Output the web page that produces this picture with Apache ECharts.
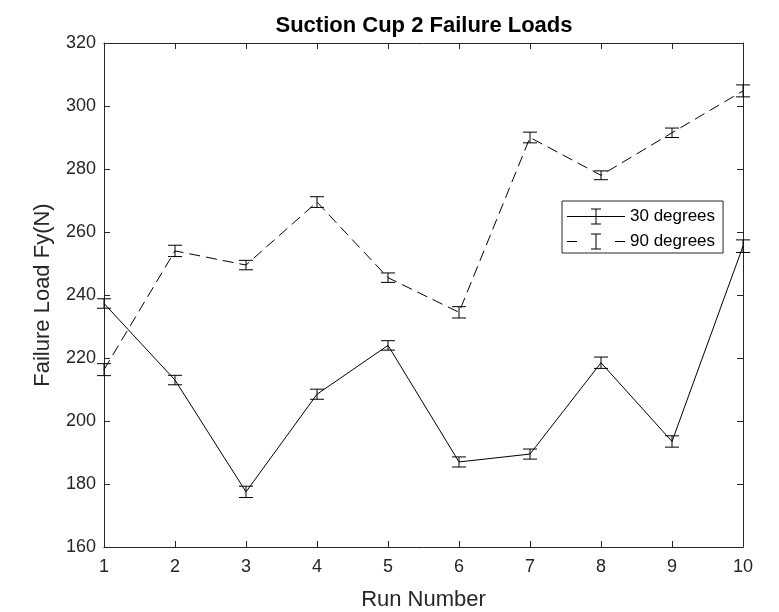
<!DOCTYPE html>
<html>
<head>
<meta charset="utf-8">
<script src="https://cdn.jsdelivr.net/npm/echarts@6/dist/echarts.min.js"></script>
<style>html,body{margin:0;padding:0;background:#fff;}#c{width:779px;height:612px;}</style>
</head>
<body>
<div id="c"></div>
<script>
var runs = [1, 2, 3, 4, 5, 6, 7, 8, 9, 10];
var deg30 = [237.3, 213, 177.5, 208.5, 224, 187, 189.5, 218.5, 193.5, 255.5];
var err30 = [1.5, 1.5, 1.8, 1.6, 1.5, 1.6, 1.6, 1.8, 1.8, 2.0];
var deg90 = [216.3, 254, 249.5, 269.5, 245.5, 234.5, 290, 278, 291.5, 304.8];
var err90 = [1.9, 1.8, 1.5, 1.7, 1.5, 1.8, 1.7, 1.4, 1.5, 1.9];
var yTicks = [160, 180, 200, 220, 240, 260, 280, 300, 320];

var FONT = "'Liberation Sans', Arial, Helvetica, sans-serif";
var AX = '#262626';

function pairs(vals) { return runs.map(function (r, i) { return [r, vals[i]]; }); }
function errData(vals, errs) { return runs.map(function (r, i) { return [r, vals[i] - errs[i], vals[i] + errs[i]]; }); }

function renderErr(params, api) {
  var x = api.value(0);
  var lo = api.coord([x, api.value(1)]);
  var hi = api.coord([x, api.value(2)]);
  var hw = 7;
  var st = { stroke: '#000', lineWidth: 1 };
  return {
    type: 'group',
    children: [
      { type: 'line', shape: { x1: lo[0], y1: lo[1], x2: hi[0], y2: hi[1] }, style: st },
      { type: 'line', shape: { x1: lo[0] - hw, y1: lo[1], x2: lo[0] + hw, y2: lo[1] }, style: st },
      { type: 'line', shape: { x1: hi[0] - hw, y1: hi[1], x2: hi[0] + hw, y2: hi[1] }, style: st }
    ]
  };
}

var iconSolid = 'path://M0 7.5H58V8.5H0Z M28.5 0H29.5V16H28.5Z M24 0H34V1H24Z M24 15H34V16H24Z';
var iconDash = 'path://M0 7.5H10V8.5H0Z M48 7.5H58V8.5H48Z M28.5 0H29.5V16H28.5Z M24 0H34V1H24Z M24 15H34V16H24Z';

var chart = echarts.init(document.getElementById('c'));
var axisCommon = {
  type: 'value',
  axisLine: { show: true, lineStyle: { color: AX, width: 1 } },
  axisTick: { show: true, inside: true, length: 6, lineStyle: { color: AX } },
  splitLine: { show: false }
};
chart.setOption({
  animation: false,
  backgroundColor: '#fff',
  title: {
    text: 'Suction Cup 2 Failure Loads',
    left: 424, textAlign: 'center', top: 15, padding: 0,
    textStyle: { fontFamily: FONT, fontSize: 22, fontWeight: 'bold', color: '#000' }
  },
  legend: {
    orient: 'vertical',
    left: 562, top: 201,
    backgroundColor: '#fff',
    borderColor: '#262626', borderWidth: 1, borderRadius: 0,
    padding: [7, 8, 3, 5],
    itemWidth: 58, itemHeight: 16, itemGap: 8,
    textStyle: { fontFamily: FONT, fontSize: 17, color: '#000' },
    itemStyle: { color: '#000', borderWidth: 0 },
    data: [
      { name: '30 degrees', icon: iconSolid },
      { name: '90 degrees', icon: iconDash }
    ]
  },
  grid: { left: 104, right: 36, top: 43, bottom: 65, containLabel: false, outerBoundsMode: 'none' },
  xAxis: [
    Object.assign({}, axisCommon, {
      min: 1, max: 10, interval: 1, position: 'bottom',
      name: 'Run Number', nameLocation: 'middle', nameGap: 42,
      nameTextStyle: { fontFamily: FONT, fontSize: 22, color: AX },
      axisLabel: { fontFamily: FONT, fontSize: 18, color: AX, margin: 11 }
    }),
    Object.assign({}, axisCommon, {
      min: 1, max: 10, interval: 1, position: 'top',
      axisLabel: { show: false }
    })
  ],
  yAxis: [
    Object.assign({}, axisCommon, {
      min: yTicks[0], max: yTicks[yTicks.length - 1], interval: 20, position: 'left',
      name: 'Failure Load Fy(N)', nameLocation: 'middle', nameGap: 50,
      nameTextStyle: { fontFamily: FONT, fontSize: 22, color: AX },
      axisLabel: { fontFamily: FONT, fontSize: 18, color: AX, margin: 8 }
    }),
    Object.assign({}, axisCommon, {
      min: yTicks[0], max: yTicks[yTicks.length - 1], interval: 20, position: 'right',
      axisLabel: { show: false }
    })
  ],
  series: [
    {
      name: '30 degrees', type: 'line', data: pairs(deg30), showSymbol: false, symbol: 'none',
      lineStyle: { color: '#000', width: 1 }, itemStyle: { color: '#000' }, z: 3
    },
    {
      name: '90 degrees', type: 'line', data: pairs(deg90), showSymbol: false, symbol: 'none',
      lineStyle: { color: '#000', width: 1, type: [11, 6] }, itemStyle: { color: '#000' }, z: 3
    },
    { name: '30 degrees', type: 'custom', renderItem: renderErr, data: errData(deg30, err30), z: 4, clip: false,
      encode: { x: 0, y: [1, 2] } },
    { name: '90 degrees', type: 'custom', renderItem: renderErr, data: errData(deg90, err90), z: 4, clip: false,
      encode: { x: 0, y: [1, 2] } }
  ]
});
</script>
</body>
</html>
